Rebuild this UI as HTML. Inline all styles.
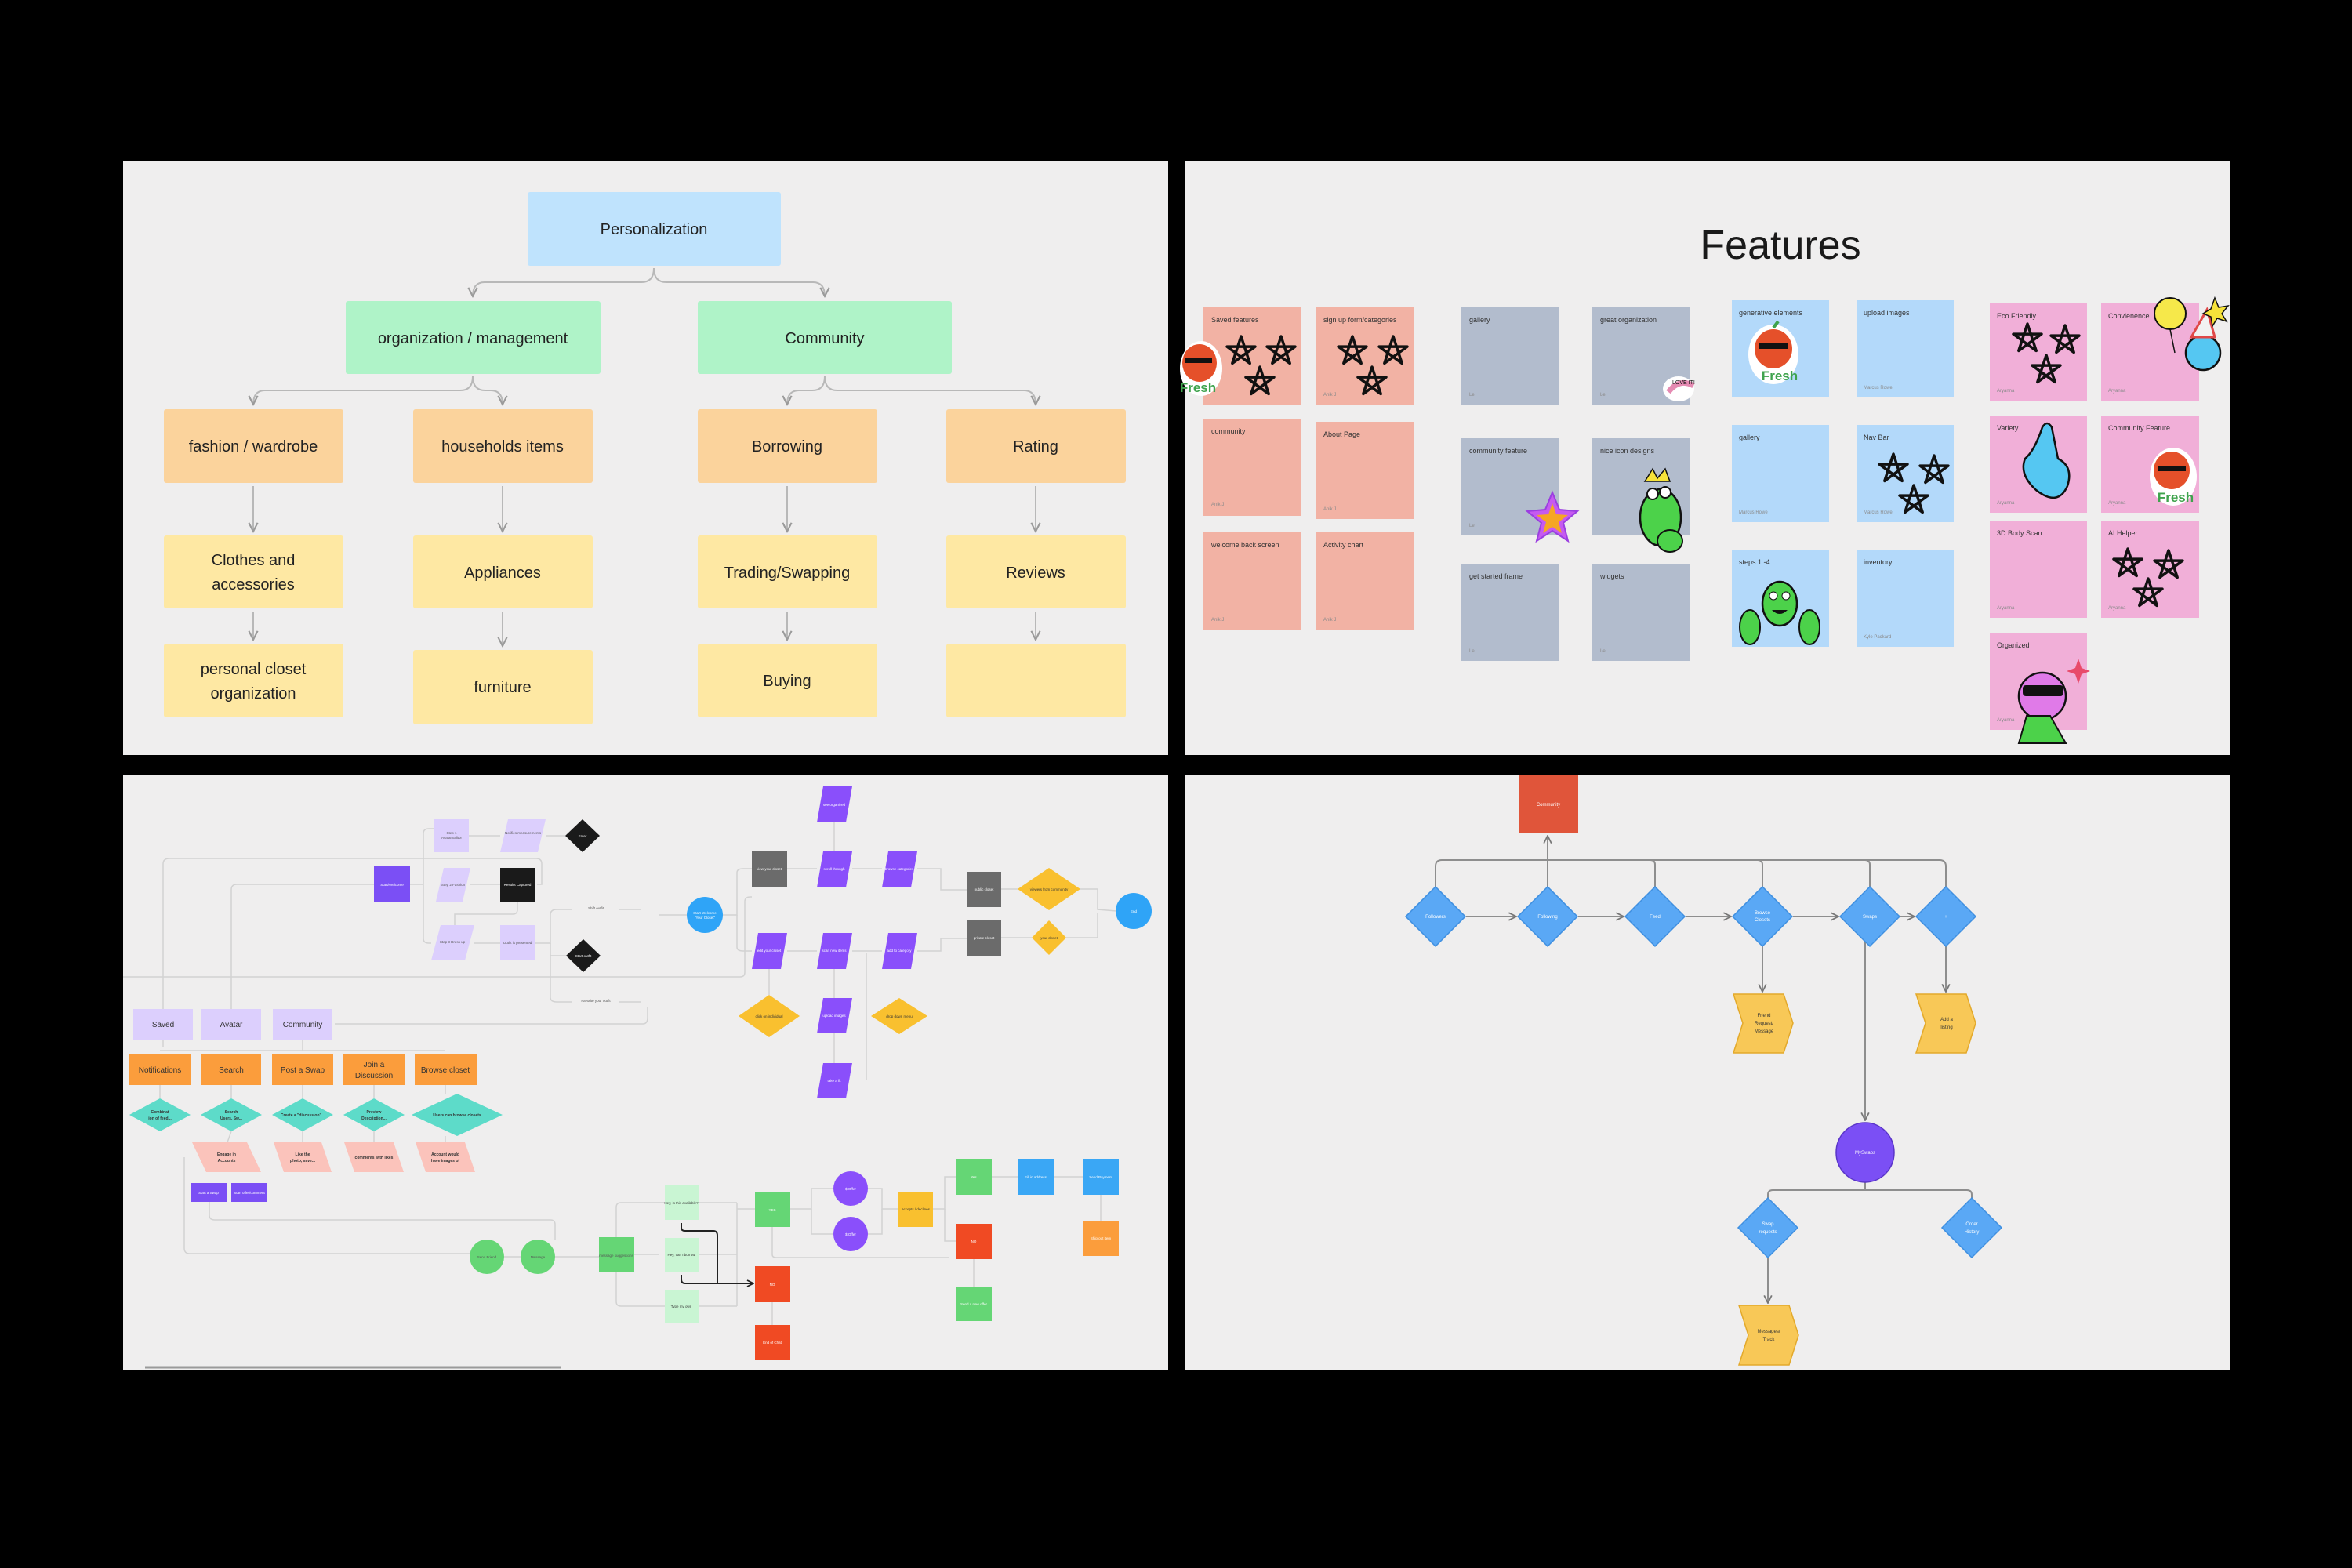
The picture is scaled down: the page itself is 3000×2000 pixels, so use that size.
<!DOCTYPE html>
<html><head><meta charset="utf-8">
<style>
html,body{margin:0;padding:0;background:#000;}
svg{display:block}
text{font-family:"Liberation Sans",sans-serif;}
</style></head>
<body>
<svg width="3000" height="2000" viewBox="0 0 3000 2000" xmlns="http://www.w3.org/2000/svg">
<defs>
<marker id="ar" viewBox="0 0 10 10" refX="9" refY="5" markerWidth="7" markerHeight="7" orient="auto-start-reverse"><path d="M1,1 L9,5 L1,9" fill="none" stroke="#9a9a9a" stroke-width="1.5"/></marker>
<marker id="ar2" viewBox="0 0 10 10" refX="9" refY="5" markerWidth="6" markerHeight="6" orient="auto-start-reverse"><path d="M1,1 L9,5 L1,9" fill="none" stroke="#777" stroke-width="1.5"/></marker>
<marker id="ar3" viewBox="0 0 10 10" refX="9" refY="5" markerWidth="5" markerHeight="5" orient="auto-start-reverse"><path d="M1,1 L9,5 L1,9" fill="none" stroke="#222" stroke-width="1.8"/></marker>
<path id="star" d="M0,-19 L11.2,15.4 L-18,-5.9 L18,-5.9 L-11.2,15.4 Z" fill="none" stroke="#111" stroke-width="3.5" stroke-linejoin="round"/>
</defs>
<rect width="3000" height="2000" fill="#000"/>

<!-- ================= PANEL TL ================= -->
<rect x="157" y="205" width="1333" height="758" fill="#efeeee"/>
<g fill="none" stroke="#b8b8b8" stroke-width="2">
<path d="M834,342 Q834,360 818,360 L618,360 Q603,360 603,378" marker-end="url(#ar)"/>
<path d="M834,342 Q834,360 850,360 L1037,360 Q1052,360 1052,378" marker-end="url(#ar)"/>
<path d="M603,480 Q603,498 587,498 L338,498 Q323,498 323,516" marker-end="url(#ar)"/>
<path d="M603,480 Q603,498 619,498 L626,498 Q641,498 641,516" marker-end="url(#ar)"/>
<path d="M1052,480 Q1052,498 1036,498 L1019,498 Q1004,498 1004,516" marker-end="url(#ar)"/>
<path d="M1052,480 Q1052,498 1068,498 L1306,498 Q1321,498 1321,516" marker-end="url(#ar)"/>
<path d="M323,620 L323,678" marker-end="url(#ar)"/><path d="M641,620 L641,678" marker-end="url(#ar)"/>
<path d="M1004,620 L1004,678" marker-end="url(#ar)"/><path d="M1321,620 L1321,678" marker-end="url(#ar)"/>
<path d="M323,780 L323,816" marker-end="url(#ar)"/><path d="M641,780 L641,824" marker-end="url(#ar)"/>
<path d="M1004,780 L1004,816" marker-end="url(#ar)"/><path d="M1321,780 L1321,816" marker-end="url(#ar)"/>
</g>
<rect x="673" y="245" width="323" height="94" rx="3" fill="#bfe3fd"/>
<rect x="441" y="384" width="325" height="93" rx="3" fill="#aff3c8"/>
<rect x="890" y="384" width="324" height="93" rx="3" fill="#aff3c8"/>
<g fill="#fbd39c"><rect x="209" y="522" width="229" height="94" rx="3"/><rect x="527" y="522" width="229" height="94" rx="3"/><rect x="890" y="522" width="229" height="94" rx="3"/><rect x="1207" y="522" width="229" height="94" rx="3"/></g>
<g fill="#fee8a3"><rect x="209" y="683" width="229" height="93" rx="3"/><rect x="527" y="683" width="229" height="93" rx="3"/><rect x="890" y="683" width="229" height="93" rx="3"/><rect x="1207" y="683" width="229" height="93" rx="3"/>
<rect x="209" y="821" width="229" height="94" rx="3"/><rect x="527" y="829" width="229" height="95" rx="3"/><rect x="890" y="821" width="229" height="94" rx="3"/><rect x="1207" y="821" width="229" height="94" rx="3"/></g>
<g font-size="20" fill="#222" text-anchor="middle">
<text x="834" y="299">Personalization</text>
<text x="603" y="438">organization / management</text>
<text x="1052" y="438">Community</text>
<text x="323" y="576">fashion / wardrobe</text>
<text x="641" y="576">households items</text>
<text x="1004" y="576">Borrowing</text>
<text x="1321" y="576">Rating</text>
<text x="323" y="721">Clothes and</text><text x="323" y="752">accessories</text>
<text x="641" y="737">Appliances</text>
<text x="1004" y="737">Trading/Swapping</text>
<text x="1321" y="737">Reviews</text>
<text x="323" y="860">personal closet</text><text x="323" y="891">organization</text>
<text x="641" y="883">furniture</text>
<text x="1004" y="875">Buying</text>
</g>

<!-- ================= PANEL TR ================= -->
<rect x="1511" y="205" width="1333" height="758" fill="#efeeee"/>
<text x="2271" y="330" font-size="52" fill="#1a1a1a" text-anchor="middle">Features</text>
<g fill="#f2b2a4">
<rect x="1535" y="392" width="125" height="124"/><rect x="1678" y="392" width="125" height="124"/>
<rect x="1535" y="534" width="125" height="124"/><rect x="1678" y="538" width="125" height="124"/>
<rect x="1535" y="679" width="125" height="124"/><rect x="1678" y="679" width="125" height="124"/>
</g>
<g fill="#b2bccd">
<rect x="1864" y="392" width="124" height="124"/><rect x="2031" y="392" width="125" height="124"/>
<rect x="1864" y="559" width="124" height="124"/><rect x="2031" y="559" width="125" height="124"/>
<rect x="1864" y="719" width="124" height="124"/><rect x="2031" y="719" width="125" height="124"/>
</g>
<g fill="#b3d9fa">
<rect x="2209" y="383" width="124" height="124"/><rect x="2368" y="383" width="124" height="124"/>
<rect x="2209" y="542" width="124" height="124"/><rect x="2368" y="542" width="124" height="124"/>
<rect x="2209" y="701" width="124" height="124"/><rect x="2368" y="701" width="124" height="124"/>
</g>
<g fill="#f1afd8">
<rect x="2538" y="387" width="124" height="124"/><rect x="2680" y="387" width="125" height="124"/>
<rect x="2538" y="530" width="124" height="124"/><rect x="2680" y="530" width="125" height="124"/>
<rect x="2538" y="664" width="124" height="124"/><rect x="2680" y="664" width="125" height="124"/>
<rect x="2538" y="807" width="124" height="124"/>
</g>
<g font-size="9" fill="#333">
<text x="1545" y="411">Saved features</text><text x="1688" y="411">sign up form/categories</text>
<text x="1545" y="553">community</text><text x="1688" y="557">About Page</text>
<text x="1545" y="698">welcome back screen</text><text x="1688" y="698">Activity chart</text>
<text x="1874" y="411">gallery</text><text x="2041" y="411">great organization</text>
<text x="1874" y="578">community feature</text><text x="2041" y="578">nice icon designs</text>
<text x="1874" y="738">get started frame</text><text x="2041" y="738">widgets</text>
<text x="2218" y="402">generative elements</text><text x="2377" y="402">upload images</text>
<text x="2218" y="561">gallery</text><text x="2377" y="561">Nav Bar</text>
<text x="2218" y="720">steps 1 -4</text><text x="2377" y="720">inventory</text>
<text x="2547" y="406">Eco Friendly</text><text x="2689" y="406">Convienence</text>
<text x="2547" y="549">Variety</text><text x="2689" y="549">Community Feature</text>
<text x="2547" y="683">3D Body Scan</text><text x="2689" y="683">AI Helper</text>
<text x="2547" y="826">Organized</text>
</g>
<g font-size="6" fill="#8a8a8a">
<text x="1545" y="645">Anik J</text><text x="1688" y="505">Anik J</text><text x="1688" y="651">Anik J</text>
<text x="1545" y="792">Anik J</text><text x="1688" y="792">Anik J</text>
<text x="1874" y="505">Lei</text><text x="2041" y="505">Lei</text><text x="1874" y="672">Lei</text><text x="1874" y="832">Lei</text><text x="2041" y="832">Lei</text>
<text x="2377" y="496">Marcus Rowe</text><text x="2218" y="655">Marcus Rowe</text><text x="2377" y="655">Marcus Rowe</text><text x="2377" y="814">Kyle Packard</text>
<text x="2547" y="500">Aryanna</text><text x="2689" y="500">Aryanna</text><text x="2547" y="643">Aryanna</text><text x="2689" y="643">Aryanna</text>
<text x="2547" y="777">Aryanna</text><text x="2689" y="777">Aryanna</text><text x="2547" y="920">Aryanna</text>
</g>
<use href="#star" x="1583" y="448"/><use href="#star" x="1634" y="448"/><use href="#star" x="1607" y="487"/>
<use href="#star" x="1725" y="448"/><use href="#star" x="1777" y="448"/><use href="#star" x="1750" y="487"/>
<use href="#star" x="2415" y="598"/><use href="#star" x="2467" y="600"/><use href="#star" x="2441" y="638"/>
<use href="#star" x="2586" y="432"/><use href="#star" x="2634" y="434"/><use href="#star" x="2610" y="472"/>
<use href="#star" x="2714" y="719"/><use href="#star" x="2766" y="721"/><use href="#star" x="2740" y="757"/>
<g>
<ellipse cx="1532" cy="470" rx="27" ry="35" fill="#fff"/><ellipse cx="1530" cy="463" rx="22" ry="24" fill="#e5502a"/><rect x="1512" y="456" width="34" height="7" fill="#111"/><text x="1528" y="500" font-size="17" font-weight="bold" fill="#3fa34d" text-anchor="middle">Fresh</text>
<ellipse cx="2262" cy="452" rx="32" ry="38" fill="#fff"/><ellipse cx="2262" cy="445" rx="24" ry="25" fill="#e5502a"/><rect x="2244" y="438" width="36" height="7" fill="#111"/><path d="M2262,418 l6,-8" stroke="#3fa34d" stroke-width="4"/><text x="2270" y="485" font-size="17" font-weight="bold" fill="#3fa34d" text-anchor="middle">Fresh</text>
<ellipse cx="2772" cy="608" rx="30" ry="37" fill="#fff"/><ellipse cx="2770" cy="600" rx="23" ry="24" fill="#e5502a"/><rect x="2752" y="594" width="36" height="7" fill="#111"/><text x="2775" y="640" font-size="17" font-weight="bold" fill="#3fa34d" text-anchor="middle">Fresh</text>
<ellipse cx="2141" cy="496" rx="20" ry="16" fill="#fff"/><path d="M2128,500 q14,-18 32,-8" stroke="#e58ab2" stroke-width="7" fill="none"/><text x="2133" y="490" font-size="7" fill="#111">LOVE IT!</text>
<polygon points="1980,628 1989,650 2012,652 1994,667 2000,690 1980,677 1960,690 1966,667 1948,652 1971,650" fill="#c65af0" stroke="#9b3fe0" stroke-width="2"/><polygon points="1980,642 1985,656 2000,657 1988,666 1992,680 1980,672 1968,680 1972,666 1960,657 1975,656" fill="#f6a623"/>
<ellipse cx="2118" cy="660" rx="26" ry="36" fill="#4cd24a" stroke="#111" stroke-width="2.5"/><circle cx="2108" cy="630" r="7" fill="#fff" stroke="#111" stroke-width="2"/><circle cx="2124" cy="628" r="7" fill="#fff" stroke="#111" stroke-width="2"/><polygon points="2098,614 2108,598 2114,610 2124,598 2130,614" fill="#f6e23a" stroke="#111" stroke-width="1.5"/><ellipse cx="2130" cy="690" rx="16" ry="14" fill="#4cd24a" stroke="#111" stroke-width="2"/>
<ellipse cx="2270" cy="770" rx="22" ry="28" fill="#4cd24a" stroke="#111" stroke-width="2.5"/><ellipse cx="2232" cy="800" rx="13" ry="22" fill="#4cd24a" stroke="#111" stroke-width="2"/><ellipse cx="2308" cy="800" rx="13" ry="22" fill="#4cd24a" stroke="#111" stroke-width="2"/><circle cx="2262" cy="760" r="5" fill="#fff" stroke="#111"/><circle cx="2278" cy="760" r="5" fill="#fff" stroke="#111"/><path d="M2260,778 q10,10 20,0" fill="#111"/>
<path d="M2605,545 q-10,30 -22,40 q-8,20 14,40 q28,22 40,-5 q8,-25 -12,-35 l-8,-40 q-6,-10 -12,0z" fill="#55c7f2" stroke="#111" stroke-width="2.5"/>
<circle cx="2768" cy="400" r="20" fill="#f6e84a" stroke="#111" stroke-width="2"/><path d="M2768,420 l6,30" stroke="#111" stroke-width="1.5"/><circle cx="2810" cy="450" r="22" fill="#55c7f2" stroke="#111" stroke-width="2.5"/><polygon points="2795,430 2825,430 2815,395" fill="#f2f2f2" stroke="#e04848" stroke-width="3"/><polygon points="2825,380 2830,392 2842,390 2834,400 2840,410 2828,406 2822,416 2820,404 2810,400 2820,394" fill="#f6e23a" stroke="#111" stroke-width="1.5"/>
<circle cx="2605" cy="888" r="30" fill="#e07ae8" stroke="#111" stroke-width="2.5"/><rect x="2580" y="874" width="52" height="14" rx="4" fill="#111"/><path d="M2575,948 l10,-35 l30,0 l20,35 z" fill="#4cd24a" stroke="#111" stroke-width="2"/><polygon points="2651,840 2655,852 2666,856 2655,860 2651,872 2647,860 2636,856 2647,852" fill="#e84a6a"/>
</g>

<!-- ================= PANEL BL ================= -->
<rect x="157" y="989" width="1333" height="759" fill="#efeeee"/>
<g fill="none" stroke="#d2d2d2" stroke-width="1.5">
<path d="M208,1287 L208,1102 Q208,1095 216,1095 L684,1095 Q691,1095 691,1102 L691,1128 L685,1128"/>
<path d="M295,1287 L295,1135 Q295,1128 302,1128 L477,1128"/>
<path d="M523,1128 L540,1128"/><path d="M540,1128 L540,1063 Q540,1057 547,1057 L554,1057"/><path d="M540,1128 L540,1197 Q540,1203 547,1203 L550,1203"/>
<path d="M598,1066 L638,1066"/><path d="M696,1066 L721,1066"/><path d="M600,1128 L638,1128"/><path d="M605,1203 L638,1203"/>
<path d="M660,1151 L660,1160 Q660,1166 654,1166 L580,1166 L580,1180"/>
<path d="M683,1203 L702,1203 L702,1167 Q702,1160 710,1160 L730,1160"/><path d="M702,1203 L702,1272 Q702,1278 710,1278 L730,1278"/><path d="M702,1219 L722,1219"/>
<path d="M790,1160 L818,1160"/><path d="M790,1278 L818,1278"/>
<path d="M157,1246 L944,1246 Q950,1246 950,1240 L950,1150 Q950,1144 957,1144 L959,1144"/>
<path d="M427,1306 L820,1306 Q826,1306 826,1298 L826,1285"/>
<path d="M840,1167 L876,1167"/><path d="M921,1167 L940,1167 L940,1113 Q940,1108 948,1108 L959,1108"/><path d="M940,1167 L940,1208 Q940,1213 948,1213 L959,1213"/>
<path d="M1004,1108 L1042,1108"/><path d="M1087,1108 L1125,1108"/><path d="M1170,1108 L1200,1108 L1200,1135 L1233,1135"/>
<path d="M1004,1213 L1042,1213"/><path d="M1087,1213 L1125,1213"/><path d="M1170,1213 L1200,1213 L1200,1197 L1233,1197"/>
<path d="M1064,1049 L1064,1086"/><path d="M1064,1236 L1064,1273"/><path d="M1064,1318 L1064,1356"/><path d="M981,1236 L981,1269"/>
<path d="M1105,1378 L1105,1215"/>
<path d="M1277,1134 L1298,1134"/><path d="M1378,1134 L1400,1134 L1400,1160 L1424,1162"/><path d="M1277,1196 L1316,1196"/><path d="M1360,1196 L1400,1196 L1400,1165"/>
<path d="M235,1476 L235,1592 Q235,1599 242,1599 L599,1599"/>
<path d="M267,1533 L267,1550 Q267,1556 274,1556 L702,1556 Q708,1556 708,1562 L708,1581"/>
<path d="M643,1603 L664,1603"/><path d="M708,1603 L764,1603"/>
<path d="M809,1600 L840,1600"/><path d="M786,1578 L786,1540 Q786,1534 792,1534 L848,1534"/><path d="M786,1623 L786,1660 Q786,1666 792,1666 L848,1666"/>
<path d="M891,1534 L940,1534"/><path d="M891,1600 L940,1600"/><path d="M891,1666 L940,1666"/><path d="M940,1534 L940,1666 M940,1542 L963,1542"/>
<path d="M1008,1542 L1035,1542 L1035,1516 L1063,1516"/><path d="M1035,1542 L1035,1574 L1063,1574"/>
<path d="M1107,1516 L1125,1516 L1125,1542 L1146,1542"/><path d="M1107,1574 L1125,1574 L1125,1542"/>
<path d="M1190,1542 L1205,1542 L1205,1501 L1220,1501"/><path d="M1205,1542 L1205,1583 L1220,1583"/>
<path d="M1265,1501 L1299,1501"/><path d="M1344,1501 L1382,1501"/><path d="M1404,1524 L1404,1557"/><path d="M1242,1606 L1242,1641"/><path d="M985,1661 L985,1690"/>
<path d="M985,1565 L985,1600 Q985,1604 990,1604 L1210,1604"/>
<path d="M208,1326 L208,1336"/><path d="M204,1384 L204,1401"/><path d="M295,1384 L295,1401"/><path d="M386,1384 L386,1401"/><path d="M477,1384 L477,1401"/><path d="M568,1384 L568,1395"/>
<path d="M295,1443 L290,1457"/><path d="M386,1443 L386,1457"/><path d="M477,1443 L477,1457"/><path d="M568,1449 L568,1457"/>
<path d="M204,1340 L568,1340"/><path d="M386,1326 L386,1340"/>
</g>
<path d="M185,1744 L715,1744" stroke="#9a9a9a" stroke-width="3"/>
<g fill="none" stroke="#222" stroke-width="2">
<path d="M869,1560 L869,1566 Q869,1570 874,1570 L910,1570 Q915,1570 915,1576 L915,1637 L961,1637" marker-end="url(#ar3)"/>
<path d="M869,1626 L869,1632 Q869,1637 874,1637 L915,1637"/>
</g>
<g fill="#dccffd">
<rect x="170" y="1287" width="76" height="39"/><rect x="257" y="1287" width="76" height="39"/><rect x="348" y="1287" width="76" height="39"/>
<rect x="554" y="1045" width="44" height="42"/>
<polygon points="648,1045 696,1045 686,1087 638,1087"/>
<polygon points="566,1107 600,1107 590,1150 556,1150"/>
<rect x="638" y="1180" width="45" height="45"/>
<polygon points="562,1180 605,1180 593,1225 550,1225"/>
</g>
<g fill="#fb9d3c">
<rect x="165" y="1344" width="78" height="40"/><rect x="256" y="1344" width="77" height="40"/><rect x="347" y="1344" width="78" height="40"/><rect x="438" y="1344" width="78" height="40"/><rect x="529" y="1344" width="79" height="40"/>
</g>
<g fill="#5ddbc9">
<polygon points="165,1422 204,1401 243,1422 204,1443"/><polygon points="256,1422 295,1401 334,1422 295,1443"/><polygon points="347,1422 386,1401 425,1422 386,1443"/><polygon points="438,1422 477,1401 516,1422 477,1443"/><polygon points="525,1422 583,1395 641,1422 583,1449"/>
</g>
<g fill="#fbc3bb">
<polygon points="245,1457 315,1457 333,1495 263,1495"/><polygon points="349,1457 410,1457 423,1495 362,1495"/><polygon points="439,1457 502,1457 515,1495 452,1495"/><polygon points="530,1457 593,1457 606,1495 543,1495"/>
</g>
<g fill="#7b4ff5"><rect x="243" y="1509" width="47" height="24"/><rect x="295" y="1509" width="46" height="24"/><rect x="477" y="1105" width="46" height="46"/></g>
<g fill="#1a1a1a"><polygon points="743,1045 765,1066 743,1087 721,1066"/><rect x="638" y="1107" width="45" height="43"/><polygon points="744,1198 766,1219 744,1240 722,1219"/></g>
<g fill="#65d675"><circle cx="621" cy="1603" r="22"/><circle cx="686" cy="1603" r="22"/><rect x="764" y="1578" width="45" height="45"/></g>
<g font-size="10" fill="#333" text-anchor="middle">
<text x="208" y="1310">Saved</text><text x="295" y="1310">Avatar</text><text x="386" y="1310">Community</text>
<text x="204" y="1368">Notifications</text><text x="295" y="1368">Search</text><text x="386" y="1368">Post a Swap</text><text x="477" y="1361">Join a</text><text x="477" y="1375">Discussion</text><text x="568" y="1368">Browse closet</text>
</g>
<g font-size="5" fill="#333" text-anchor="middle" font-weight="bold">
<text x="204" y="1420">Combinat</text><text x="204" y="1428">ion of feed...</text>
<text x="295" y="1420">Search</text><text x="295" y="1428">Users, Sw...</text>
<text x="386" y="1424">Create a "discussion"...</text>
<text x="477" y="1420">Preview</text><text x="477" y="1428">Description...</text>
<text x="583" y="1424">Users can browse closets</text>
<text x="289" y="1474">Engage in</text><text x="289" y="1482">Accounts</text>
<text x="386" y="1474">Like the</text><text x="386" y="1482">photo, save...</text>
<text x="477" y="1478">comments with likes</text>
<text x="568" y="1474">Account would</text><text x="568" y="1482">have images of</text>
</g>
<g font-size="4.5" fill="#fff" text-anchor="middle"><text x="266" y="1523">Start a Swap</text><text x="318" y="1523">Start offer/comment</text><text x="500" y="1130">Start/Welcome</text><text x="660" y="1130">Results Captured</text><text x="743" y="1068">Enter</text><text x="744" y="1221">Start outfit</text></g>
<g font-size="4.5" fill="#555" text-anchor="middle"><text x="576" y="1064">Step 1</text><text x="576" y="1070">Avatar Editor</text><text x="667" y="1064">Notifies measurements</text><text x="578" y="1130">Step 2 Fashion</text><text x="577" y="1203">Step 3 Dress up</text><text x="660" y="1204">Outfit is presented</text><text x="760" y="1160">Shift outfit</text><text x="760" y="1278">Favorite your outfit</text><text x="621" y="1605">Send Friend</text><text x="686" y="1605">Message</text><text x="786" y="1603">message suggestions</text></g>

<circle cx="899" cy="1167" r="23" fill="#2fa4f7"/><circle cx="1446" cy="1162" r="23" fill="#2fa4f7"/>
<g fill="#6b6b6b"><rect x="959" y="1086" width="45" height="45"/><rect x="1233" y="1112" width="44" height="45"/><rect x="1233" y="1174" width="44" height="45"/></g>
<g fill="#8a4ffb">
<polygon points="1050,1003 1087,1003 1079,1049 1042,1049"/>
<polygon points="1050,1086 1087,1086 1079,1132 1042,1132"/><polygon points="1133,1086 1170,1086 1162,1132 1125,1132"/>
<polygon points="967,1190 1004,1190 996,1236 959,1236"/><polygon points="1050,1190 1087,1190 1079,1236 1042,1236"/><polygon points="1133,1190 1170,1190 1162,1236 1125,1236"/>
<polygon points="1050,1273 1087,1273 1079,1318 1042,1318"/><polygon points="1050,1356 1087,1356 1079,1401 1042,1401"/>
</g>
<g fill="#f9c02f">
<polygon points="942,1296 981,1269 1020,1296 981,1323"/><polygon points="1111,1296 1147,1273 1183,1296 1147,1319"/>
<polygon points="1298,1134 1338,1107 1378,1134 1338,1161"/><polygon points="1316,1196 1338,1174 1360,1196 1338,1218"/>
<rect x="1146" y="1520" width="44" height="45"/>
</g>
<g fill="#c9f5d3"><rect x="848" y="1512" width="43" height="44"/><rect x="848" y="1579" width="43" height="43"/><rect x="848" y="1646" width="43" height="41"/></g>
<g fill="#65d675"><rect x="963" y="1520" width="45" height="45"/><rect x="1220" y="1478" width="45" height="46"/><rect x="1220" y="1641" width="45" height="44"/></g>
<g fill="#f04a23"><rect x="963" y="1615" width="45" height="46"/><rect x="963" y="1690" width="45" height="45"/><rect x="1220" y="1561" width="45" height="45"/></g>
<g fill="#8a4ffb"><ellipse cx="1085" cy="1516" rx="22" ry="22"/><ellipse cx="1085" cy="1574" rx="22" ry="22"/></g>
<g fill="#3aa7f5"><rect x="1299" y="1478" width="45" height="46"/><rect x="1382" y="1478" width="45" height="46"/></g>
<rect x="1382" y="1557" width="45" height="45" fill="#fb9d3c"/>
<g font-size="4.5" fill="#fff" text-anchor="middle">
<text x="899" y="1166">Start Welcome</text><text x="899" y="1172">"Your Closet"</text><text x="1446" y="1164">End</text>
<text x="981" y="1110">view your closet</text><text x="1255" y="1136">public closet</text><text x="1255" y="1198">private closet</text>
<text x="1064" y="1028">see organized</text><text x="1064" y="1110">scroll through</text><text x="1147" y="1110">browse categories</text>
<text x="981" y="1214">edit your closet</text><text x="1064" y="1214">scan new items</text><text x="1147" y="1214">add to category</text>
<text x="1064" y="1297">upload images</text><text x="1064" y="1380">take a fit</text>
<text x="985" y="1545">YES</text><text x="985" y="1640">NO</text><text x="985" y="1714">End of Chat</text>
<text x="1085" y="1518">$ Offer</text><text x="1085" y="1576">$ Offer</text>
<text x="1242" y="1503">Yes</text><text x="1242" y="1585">NO</text><text x="1242" y="1665">Send a new offer</text>
<text x="1321" y="1503">Fill in address</text><text x="1404" y="1503">Send Payment</text><text x="1404" y="1581">Ship out item</text>
</g>
<g font-size="4.5" fill="#333" text-anchor="middle">
<text x="981" y="1298">click on individual</text><text x="1147" y="1298">drop down menu</text><text x="1338" y="1136">viewers from community</text><text x="1338" y="1198">your closet</text>
<text x="1168" y="1544">accepts / declines</text><text x="869" y="1536">Hey, is this available?</text><text x="869" y="1602">Hey, can I borrow</text><text x="869" y="1668">Type my own</text>
</g>

<!-- ================= PANEL BR ================= -->
<rect x="1511" y="989" width="1333" height="759" fill="#efeeee"/>
<rect x="1937" y="988" width="76" height="75" fill="#e0553a"/>
<text x="1975" y="1028" font-size="6" fill="#fff" text-anchor="middle">Community</text>
<g fill="none" stroke="#8e8e8e" stroke-width="2">
<path d="M1974,1131 L1974,1066" marker-end="url(#ar2)"/>
<path d="M1831,1131 L1831,1105 Q1831,1097 1839,1097 L2474,1097 Q2482,1097 2482,1105 L2482,1131"/>
<path d="M2111,1131 L2111,1103 Q2111,1097 2105,1097"/><path d="M2248,1131 L2248,1103 Q2248,1097 2242,1097"/><path d="M2385,1131 L2385,1103 Q2385,1097 2379,1097"/>
<path d="M1870,1169 L1934,1169" marker-end="url(#ar2)"/><path d="M2013,1169 L2071,1169" marker-end="url(#ar2)"/><path d="M2150,1169 L2208,1169" marker-end="url(#ar2)"/><path d="M2287,1169 L2345,1169" marker-end="url(#ar2)"/><path d="M2424,1169 L2442,1169" marker-end="url(#ar2)"/>
<path d="M2248,1207 L2248,1265" marker-end="url(#ar2)"/><path d="M2482,1207 L2482,1265" marker-end="url(#ar2)"/>
<path d="M2379,1200 L2379,1429" marker-end="url(#ar2)"/>
<path d="M2379,1508 L2379,1518 M2255,1528 L2255,1524 Q2255,1518 2261,1518 L2509,1518 Q2515,1518 2515,1524 L2515,1528"/>
<path d="M2255,1604 L2255,1662" marker-end="url(#ar2)"/>
</g>
<g fill="#5aa8f5" stroke="#3f8fe0" stroke-width="1.5">
<polygon points="1831,1131 1869,1169 1831,1207 1793,1169"/><polygon points="1974,1131 2012,1169 1974,1207 1936,1169"/><polygon points="2111,1131 2149,1169 2111,1207 2073,1169"/><polygon points="2248,1131 2286,1169 2248,1207 2210,1169"/><polygon points="2385,1131 2423,1169 2385,1207 2347,1169"/><polygon points="2482,1131 2520,1169 2482,1207 2444,1169"/>
<polygon points="2255,1528 2293,1566 2255,1604 2217,1566"/><polygon points="2515,1528 2553,1566 2515,1604 2477,1566"/>
</g>
<g fill="#f8c857" stroke="#e3a92b" stroke-width="1.5">
<polygon points="2211,1268 2275,1268 2287,1305 2275,1343 2211,1343 2223,1305"/>
<polygon points="2444,1268 2508,1268 2520,1305 2508,1343 2444,1343 2456,1305"/>
<polygon points="2218,1665 2282,1665 2294,1703 2282,1741 2218,1741 2230,1703"/>
</g>
<ellipse cx="2379" cy="1470" rx="37" ry="38" fill="#7b4ff5" stroke="#5a35c8" stroke-width="1.5"/>
<g font-size="6" fill="#fff" text-anchor="middle">
<text x="1831" y="1171">Followers</text><text x="1974" y="1171">Following</text><text x="2111" y="1171">Feed</text><text x="2248" y="1166">Browse</text><text x="2248" y="1175">Closets</text><text x="2385" y="1171">Swaps</text><text x="2482" y="1171">+</text>
<text x="2379" y="1472">MySwaps</text><text x="2255" y="1563">Swap</text><text x="2255" y="1573">requests</text><text x="2515" y="1563">Order</text><text x="2515" y="1573">History</text>
</g>
<g font-size="6" fill="#333" text-anchor="middle">
<text x="2250" y="1297">Friend</text><text x="2250" y="1307">Request/</text><text x="2250" y="1317">Message</text>
<text x="2483" y="1302">Add a</text><text x="2483" y="1312">listing</text>
<text x="2256" y="1700">Messages/</text><text x="2256" y="1710">Track</text>
</g>
</svg>
</body></html>
